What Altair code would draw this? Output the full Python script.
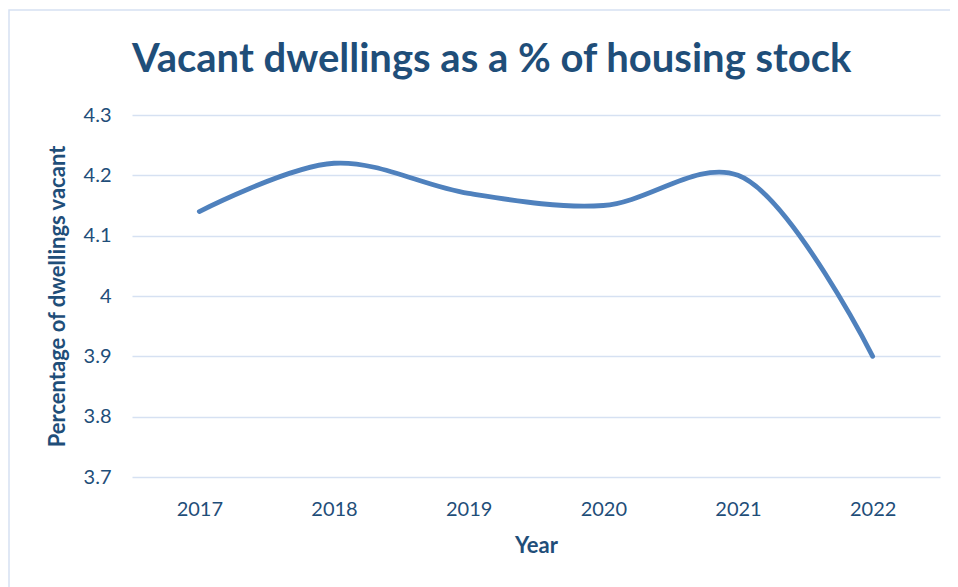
import altair as alt
import pandas as pd

years = ["2017", "2018", "2019", "2020", "2021", "2022"]
vacant_pct = [4.14, 4.22, 4.17, 4.15, 4.20, 3.90]
y_ticks = [3.7, 3.8, 3.9, 4.0, 4.1, 4.2, 4.3]

df = pd.DataFrame({"Year": years, "Pct": vacant_pct})

DARK = "#1F4E79"
FONT = "Lato"

line = alt.Chart(df).mark_line(
    interpolate="catmull-rom", color="#4F81BD", strokeWidth=4.8, strokeCap="round"
).encode(
    x=alt.X("Year:N", sort=years, scale=alt.Scale(padding=0.5),
            axis=alt.Axis(title="Year", labelAngle=0, domain=False, ticks=False,
                          labelPadding=22, titlePadding=16, grid=False)),
    y=alt.Y("Pct:Q", scale=alt.Scale(domain=[3.7, 4.3], nice=False, zero=False),
            axis=alt.Axis(title="Percentage of dwellings vacant", values=y_ticks,
                          format="~g", domain=False, ticks=False, labelPadding=21,
                          titlePadding=14, gridColor="#D6E1F2", gridWidth=1.5)),
)

border = alt.Chart(pd.DataFrame({"a": [0]})).mark_rect(
    fill=None, stroke="#D6E1F2", strokeWidth=1.5
).encode(
    x=alt.value(-123), x2=alt.value(1200), y=alt.value(-105), y2=alt.value(900)
)

chart = alt.layer(border, line).properties(
    width=808,
    height=362,
    padding={"left": 124, "top": 107, "right": 10, "bottom": 110},
    autosize=alt.AutoSizeParams(type="none"),
    title=alt.TitleParams(
        "Vacant dwellings as a % of housing stock",
        anchor="start", frame="group", fontSize=40, font=FONT,
        fontWeight="bold", color=DARK, baseline="alphabetic", offset=0, dy=103,
    ),
).configure_view(stroke=None).configure_axis(
    labelFont=FONT, titleFont=FONT, labelFontSize=20, titleFontSize=22,
    labelColor=DARK, titleColor=DARK, titleFontWeight="bold",
)

chart.save("out.html", embed_options={"renderer": "svg", "actions": False})
